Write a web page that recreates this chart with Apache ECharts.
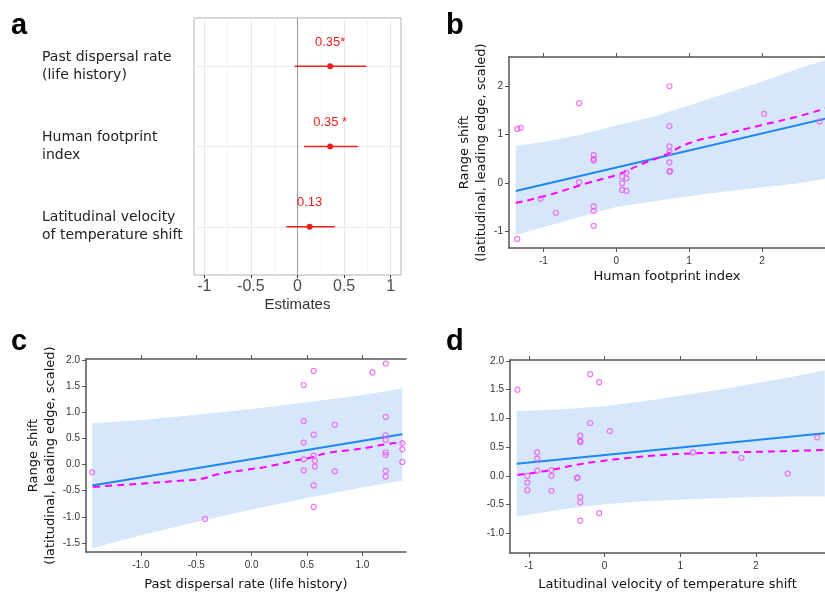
<!DOCTYPE html>
<html>
<head>
<meta charset="utf-8">
<script src="https://cdn.jsdelivr.net/npm/echarts@6/dist/echarts.min.js"></script>
<style>html,body{margin:0;padding:0;background:#fff;}#c{width:825px;height:597px;}</style>
</head>
<body>
<div id="c"></div>
<script>
// ---------- Panel a (coefficient plot) ----------
const aCategories = ['Latitudinal velocity\nof temperature shift', 'Human footprint\nindex', 'Past dispersal rate\n(life history)'];
const aEstimates = [0.13, 0.35, 0.35];
const aLower = [-0.12, 0.07, -0.03];
const aUpper = [0.40, 0.65, 0.74];
const aLabels = ['0.13', '0.35 *', '0.35*'];
const aTicks = [-1, -0.5, 0, 0.5, 1];
const aGridLines = [-1, -0.75, -0.5, -0.25, 0.25, 0.5, 0.75, 1];

// ---------- Panel b (Human footprint index) ----------
const bTicksX = [-1, 0, 1, 2];
const bTicksY = [-1, 0, 1, 2];
const bPointsX = [-1.36,-1.31,-1.36,-1.04,-0.83,-0.51,-0.51,-0.31,-0.31,-0.31,-0.31,-0.31,-0.31,0.08,0.08,0.08,0.14,0.14,0.14,0.73,0.73,0.73,0.73,0.73,0.73,0.74,2.03,2.79];
const bPointsY = [1.12,1.14,-1.15,-0.32,-0.61,1.65,0.02,0.58,0.50,0.47,-0.48,-0.57,-0.88,0.14,0.0,-0.14,0.22,0.10,-0.16,2.0,1.18,0.76,0.64,0.43,0.24,0.25,1.43,1.27];
const bFitX = [-1.38, 2.87];
const bFitY = [-0.16, 1.33];
const bBandX = [-1.38,-1,-0.5,0,0.5,1,1.5,2,2.5,2.87];
const bBandLow = [-1.07,-0.91,-0.70,-0.49,-0.38,-0.27,-0.17,-0.09,0.0,0.09];
const bBandHigh = [0.77,0.85,1.0,1.19,1.37,1.60,1.85,2.10,2.36,2.54];
const bLoessX = [-1.38,-0.92,-0.38,0.02,0.36,0.65,1.01,1.46,2.0,2.5,2.87];
const bLoessY = [-0.41,-0.24,0.01,0.18,0.40,0.57,0.83,1.0,1.2,1.38,1.54];

// ---------- Panel c (Past dispersal rate) ----------
const cTicksX = [-1, -0.5, 0, 0.5, 1];
const cTicksY = [-1.5, -1, -0.5, 0, 0.5, 1, 1.5, 2];
const cPointsX = [-1.44,-0.42,0.47,0.47,0.47,0.47,0.47,0.56,0.56,0.56,0.56,0.56,0.57,0.57,0.75,0.75,1.09,1.21,1.21,1.21,1.21,1.21,1.21,1.21,1.21,1.36,1.36,1.36];
const cPointsY = [-0.15,-1.04,1.52,0.83,0.42,0.10,-0.11,1.79,0.57,0.17,-0.40,-0.81,0.07,-0.04,0.76,-0.13,1.76,1.93,0.91,0.56,0.47,0.23,0.18,-0.12,-0.23,0.41,0.29,0.05];
const cFitX = [-1.44, 1.36];
const cFitY = [-0.40, 0.58];
const cBandX = [-1.44,-1,-0.5,0,0.5,1,1.36];
const cBandLow = [-1.60,-1.35,-1.10,-0.86,-0.64,-0.44,-0.31];
const cBandHigh = [0.79,0.85,0.95,1.06,1.19,1.33,1.46];
const cLoessX = [-1.43,-1.25,-0.95,-0.65,-0.47,-0.29,-0.05,0.14,0.38,0.53,0.68,0.86,1.04,1.22,1.36];
const cLoessY = [-0.43,-0.40,-0.36,-0.31,-0.28,-0.18,-0.10,-0.04,0.07,0.13,0.22,0.27,0.32,0.39,0.42];

// ---------- Panel d (Latitudinal velocity) ----------
const dTicksX = [-1, 0, 1, 2];
const dTicksY = [-1, -0.5, 0, 0.5, 1, 1.5, 2];
const dPointsX = [-1.15,-1.02,-1.02,-1.02,-0.89,-0.89,-0.89,-0.70,-0.70,-0.70,-0.36,-0.36,-0.32,-0.32,-0.32,-0.32,-0.32,-0.32,-0.19,-0.19,-0.07,-0.07,0.07,1.17,1.17,1.81,2.42,2.81];
const dPointsY = [1.50,0.0,-0.12,-0.25,0.41,0.30,0.09,0.10,0.0,-0.26,-0.03,-0.04,0.70,0.61,0.59,-0.37,-0.46,-0.78,1.77,0.92,1.63,-0.65,0.78,2.02,0.41,0.31,0.04,0.67];
const dFitX = [-1.16, 2.91];
const dFitY = [0.21, 0.74];
const dBandX = [-1.16,-0.5,0,0.5,1,1.5,2,2.5,2.91];
const dBandLow = [-0.71,-0.575,-0.495,-0.445,-0.415,-0.39,-0.37,-0.36,-0.36];
const dBandHigh = [1.13,1.165,1.215,1.295,1.395,1.50,1.61,1.73,1.84];
const dLoessX = [-1.15,-0.95,-0.64,-0.38,-0.08,0.31,0.74,1.17,1.73,2.38,2.91];
const dLoessY = [0.02,0.05,0.12,0.19,0.25,0.31,0.36,0.39,0.41,0.43,0.45];

// ---------- styles ----------
const RED = '#e8221f';
const BAND = '#d6e7fb';
const BLUE = '#1e88f0';
const MAG = '#ff00ff';
const PT = '#ee55ee';
const AX = '#555';
const zip = (xs, ys) => xs.map((x, i) => [x, ys[i]]);

const chart = echarts.init(document.getElementById('c'), null, {renderer: 'canvas'});

function regAxisX(gi, min, max, ticks, fmt, name, gap) {
  return {
    gridIndex: gi, type: 'value', min: min, max: max, position: 'bottom',
    axisLine: {show: true, onZero: false, lineStyle: {color: AX, width: 1.5}},
    axisTick: {show: true, customValues: ticks, length: 4, lineStyle: {color: AX}},
    axisLabel: {customValues: ticks, formatter: fmt, fontSize: 10, color: '#333', margin: 8, fontFamily: 'Liberation Sans'},
    splitLine: {show: false},
    name: name, nameLocation: 'middle', nameGap: gap,
    nameTextStyle: {fontSize: 13, color: '#111', fontFamily: 'DejaVu Sans'}
  };
}
function topAxisX(gi, min, max, ticks) {
  return {
    gridIndex: gi, type: 'value', min: min, max: max, position: 'top',
    axisLine: {show: true, onZero: false, lineStyle: {color: AX, width: 1.5}},
    axisTick: {show: true, customValues: ticks, length: 4, lineStyle: {color: AX}},
    axisLabel: {show: false}, splitLine: {show: false}
  };
}
function regAxisY(gi, min, max, ticks, fmt, name, gap) {
  return {
    gridIndex: gi, type: 'value', min: min, max: max,
    axisLine: {show: true, onZero: false, lineStyle: {color: AX, width: 1.5}},
    axisTick: {show: true, customValues: ticks, length: 4, lineStyle: {color: AX}},
    axisLabel: {customValues: ticks, formatter: fmt, fontSize: 10, color: '#333', margin: 6, fontFamily: 'Liberation Sans'},
    splitLine: {show: false},
    name: name, nameLocation: 'middle', nameGap: gap,
    nameTextStyle: {fontSize: 13, color: '#111', fontFamily: 'DejaVu Sans', lineHeight: 17}
  };
}
function regSeries(gi, bx, blo, bhi, fx, fy, lx, ly, px, py) {
  const common = {xAxisIndex: gi, yAxisIndex: gi, animation: false, silent: true};
  return [
    Object.assign({
      type: 'custom', data: [[0]], z: 1,
      renderItem: function (params, api) {
        const pts = [];
        for (let i = 0; i < bx.length; i++) pts.push(api.coord([bx[i], bhi[i]]));
        for (let i = bx.length - 1; i >= 0; i--) pts.push(api.coord([bx[i], blo[i]]));
        return {type: 'polygon', shape: {points: pts}, style: {fill: BAND, stroke: null}};
      }
    }, common),
    Object.assign({type: 'line', data: zip(fx, fy), symbol: 'none', lineStyle: {color: BLUE, width: 2}, z: 3}, common),
    Object.assign({type: 'line', data: zip(lx, ly), symbol: 'none', smooth: true, lineStyle: {color: MAG, width: 2, type: [7, 5]}, z: 4}, common),
    Object.assign({type: 'scatter', data: zip(px, py), symbol: 'circle', symbolSize: 5,
      itemStyle: {color: 'rgba(0,0,0,0)', borderColor: PT, borderWidth: 1.2}, z: 5}, common)
  ];
}

const fmtInt = v => String(Math.round(v));
const fmt1 = v => v.toFixed(1);
const yName = 'Range shift\n(latitudinal, leading edge, scaled)';

const option = {
  animation: false,
  backgroundColor: '#fff',
  grid: [
    {left: 194, top: 18, width: 207, height: 257, show: true, borderColor: '#b3b3b3', borderWidth: 1, backgroundColor: '#fff'},
    {left: 509, top: 57, width: 322, height: 191},
    {left: 86, top: 359, width: 320, height: 193},
    {left: 510, top: 360, width: 321, height: 193}
  ],
  xAxis: [
    {
      gridIndex: 0, type: 'value', min: -1.11, max: 1.11,
      axisLine: {show: false},
      axisTick: {show: true, customValues: aTicks, length: 3, lineStyle: {color: '#333'}},
      axisLabel: {customValues: aTicks, fontSize: 16, color: '#4d4d4d', margin: 4, fontFamily: 'Liberation Sans'},
      splitLine: {show: false},
      name: 'Estimates', nameLocation: 'middle', nameGap: 22,
      nameTextStyle: {fontSize: 15, color: '#333', fontFamily: 'Liberation Sans'}
    },
    regAxisX(1, -1.473, 2.866, bTicksX, fmtInt, 'Human footprint index', 22),
    regAxisX(2, -1.495, 1.393, cTicksX, fmt1, 'Past dispersal rate (life history)', 26),
    regAxisX(3, -1.249, 2.914, dTicksX, fmtInt, 'Latitudinal velocity of temperature shift', 25),
    topAxisX(1, -1.473, 2.866, bTicksX),
    topAxisX(2, -1.495, 1.393, cTicksX),
    topAxisX(3, -1.249, 2.914, dTicksX)
  ],
  yAxis: [
    {
      gridIndex: 0, type: 'value', min: 0.4, max: 3.6,
      axisLine: {show: false},
      axisTick: {show: true, customValues: [1, 2, 3], length: 3, lineStyle: {color: '#333'}},
      axisLabel: {customValues: [1, 2, 3], formatter: v => aCategories[Math.round(v) - 1],
        align: 'left', margin: 152, fontSize: 14, lineHeight: 18, color: '#222', fontFamily: 'DejaVu Sans'},
      splitLine: {show: false}
    },
    regAxisY(1, -1.337, 2.603, bTicksY, fmtInt, yName, 17),
    regAxisY(2, -1.672, 2.017, cTicksY, fmt1, yName, 26),
    regAxisY(3, -1.344, 2.017, dTicksY, fmt1, '', 20)
  ],
  series: [
    {
      type: 'line', xAxisIndex: 0, yAxisIndex: 0, data: [], silent: true, z: 1,
      markLine: {
        silent: true, symbol: ['none', 'none'], label: {show: false}, animation: false,
        data: aGridLines.map(v => ({xAxis: v, lineStyle: {color: (Math.abs(v * 2) % 1 === 0) ? '#e8e8e8' : '#f3f3f3', width: 1, type: 'solid'}}))
          .concat([1, 2, 3].map(v => ({yAxis: v, lineStyle: {color: '#ececec', width: 1, type: 'solid'}})))
          .concat([{xAxis: 0, lineStyle: {color: '#9a9a9a', width: 1, type: 'solid'}}])
      }
    },
    {
      type: 'custom', xAxisIndex: 0, yAxisIndex: 0, z: 5, silent: true,
      data: aEstimates.map((e, i) => [e, aLower[i], aUpper[i], i + 1]),
      renderItem: function (params, api) {
        const est = api.value(0), lo = api.value(1), hi = api.value(2), row = api.value(3);
        const p0 = api.coord([lo, row]), p1 = api.coord([hi, row]), pe = api.coord([est, row]);
        return {
          type: 'group', children: [
            {type: 'line', shape: {x1: p0[0], y1: p0[1], x2: p1[0], y2: p1[1]}, style: {stroke: RED, lineWidth: 1.5}},
            {type: 'circle', shape: {cx: pe[0], cy: pe[1], r: 3}, style: {fill: RED}},
            {type: 'text', style: {text: aLabels[params.dataIndex], x: pe[0], y: pe[1] - 24, fill: RED,
              font: '13px "Liberation Sans"', align: 'center', verticalAlign: 'middle'}}
          ]
        };
      }
    }
  ].concat(
    regSeries(1, bBandX, bBandLow, bBandHigh, bFitX, bFitY, bLoessX, bLoessY, bPointsX, bPointsY),
    regSeries(2, cBandX, cBandLow, cBandHigh, cFitX, cFitY, cLoessX, cLoessY, cPointsX, cPointsY),
    regSeries(3, dBandX, dBandLow, dBandHigh, dFitX, dFitY, dLoessX, dLoessY, dPointsX, dPointsY)
  ),
  graphic: [
    {type: 'text', x: 11, y: 40, style: {text: 'a', font: 'bold 29px "Liberation Sans"', fill: '#000', verticalAlign: 'bottom'}},
    {type: 'text', x: 446, y: 40, style: {text: 'b', font: 'bold 29px "Liberation Sans"', fill: '#000', verticalAlign: 'bottom'}},
    {type: 'text', x: 11, y: 356, style: {text: 'c', font: 'bold 29px "Liberation Sans"', fill: '#000', verticalAlign: 'bottom'}},
    {type: 'text', x: 446, y: 356, style: {text: 'd', font: 'bold 29px "Liberation Sans"', fill: '#000', verticalAlign: 'bottom'}}
  ]
};
chart.setOption(option);
</script>
</body>
</html>
